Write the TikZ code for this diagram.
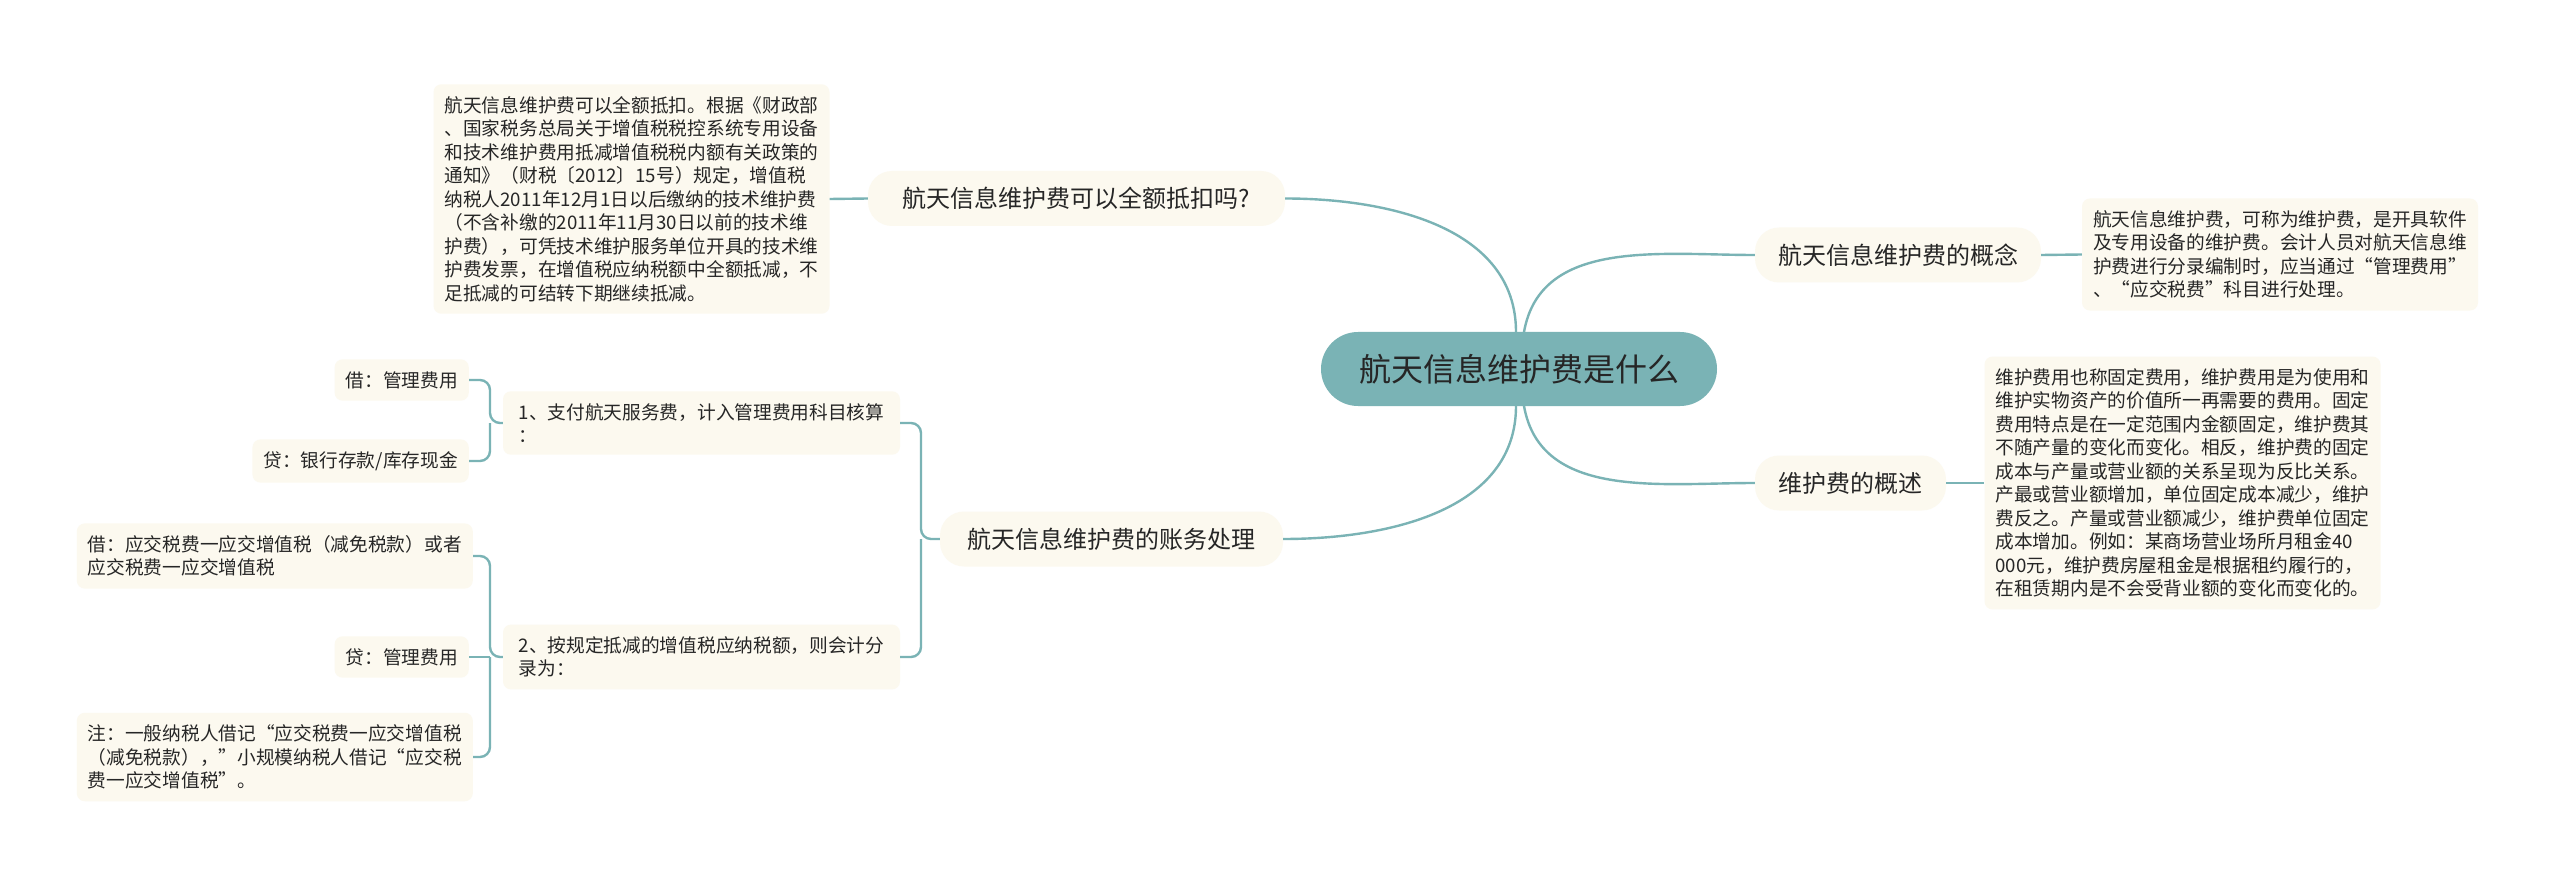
\documentclass[tikz,border=0pt]{standalone}
\usepackage{fontspec}
\setmainfont{Noto Sans CJK SC}
\definecolor{tealA}{HTML}{7AB3B5}
\definecolor{creamA}{HTML}{FCF9EF}
\definecolor{txtA}{HTML}{262626}
\tikzset{
  rootnode/.style={fill=tealA, rounded corners=37pt, minimum width=396pt, minimum height=74pt, inner sep=0pt, font=\fontsize{32}{38}\selectfont, text=txtA},
  branchnode/.style={fill=creamA, rounded corners=24pt, minimum height=55pt, inner xsep=0pt, font=\fontsize{24}{28}\selectfont, text=txtA},
  leafnode/.style={fill=creamA, rounded corners=8pt, inner xsep=11pt, inner ysep=12pt, align=left, font=\fontsize{18.7}{23.5}\selectfont, text=txtA},
  link/.style={draw=tealA, line width=2.4pt},
  bracket/.style={draw=tealA, line width=2.4pt, rounded corners=10pt},
}
\begin{document}
\begin{tikzpicture}[x=1pt,y=-1pt]
\fill[white] (0,0) rectangle (2560,885);
\useasboundingbox (0,0) rectangle (2560,885);

% root
\node[rootnode] (C) at (1519,369) {航天信息维护费是什么};

% branches
\node[branchnode, minimum width=417pt] (B1) at (1076.5,198.5) {航天信息维护费可以全额抵扣吗?};
\node[branchnode, minimum width=286pt] (B2) at (1898,255) {航天信息维护费的概念};
\node[branchnode, minimum width=191pt] (B3) at (1850.5,483) {维护费的概述};
\node[branchnode, minimum width=343pt] (B4) at (1111.5,539) {航天信息维护费的账务处理};

% leaves of B1, B2, B3
\node[leafnode] (T1) at (631.5,199) {航天信息维护费可以全额抵扣。根据《财政部\\、国家税务总局关于增值税税控系统专用设备\\和技术维护费用抵减增值税税内额有关政策的\\通知》（财税〔2012〕15号）规定，增值税\\纳税人2011年12月1日以后缴纳的技术维护费\\（不含补缴的2011年11月30日以前的技术维\\护费），可凭技术维护服务单位开具的技术维\\护费发票，在增值税应纳税额中全额抵减，不\\足抵减的可结转下期继续抵减。};
\node[leafnode] (T2) at (2280,254.5) {航天信息维护费，可称为维护费，是开具软件\\及专用设备的维护费。会计人员对航天信息维\\护费进行分录编制时，应当通过“管理费用”\\、“应交税费”科目进行处理。};
\node[leafnode] (T3) at (2182.5,483) {维护费用也称固定费用，维护费用是为使用和\\维护实物资产的价值所一再需要的费用。固定\\费用特点是在一定范围内金额固定，维护费其\\不随产量的变化而变化。相反，维护费的固定\\成本与产量或营业额的关系呈现为反比关系。\\产最或营业额增加，单位固定成本减少，维护\\费反之。产量或营业额减少，维护费单位固定\\成本增加。例如：某商场营业场所月租金40\\000元，维护费房屋租金是根据租约履行的，\\在租赁期内是不会受背业额的变化而变化的。};

% sub-branches of B4
\node[leafnode, minimum width=397pt] (S1) at (701.5,423) {1、支付航天服务费，计入管理费用科目核算\\：};
\node[leafnode, minimum width=397pt] (S2) at (701.5,657) {2、按规定抵减的增值税应纳税额，则会计分\\录为：};

% leaves of S1
\node[leafnode, anchor=east] (L1) at (469,380) {借：管理费用};
\node[leafnode, anchor=east] (L2) at (469,461) {贷：银行存款/库存现金};

% leaves of S2
\node[leafnode, anchor=east] (L3) at (473,556) {借：应交税费一应交增值税（减免税款）或者\\应交税费一应交增值税};
\node[leafnode, anchor=east] (L4) at (469,657) {贷：管理费用};
\node[leafnode, anchor=east] (L5) at (473,757) {注：一般纳税人借记“应交税费一应交增值税\\（减免税款），”小规模纳税人借记“应交税\\费一应交增值税”。};

% root connectors
\coordinate (CTL) at (1516,332);
\coordinate (CTR) at (1524,332);
\coordinate (CBL) at (1516,406);
\coordinate (CBR) at (1524,406);
\draw[link] (CTL) to[out=90,in=0] (B1.east);
\draw[link] (CTR) to[out=80,in=180] (B2.west);
\draw[link] (CBR) to[out=-80,in=180] (B3.west);
\draw[link] (CBL) to[out=-90,in=0] (B4.east);

% short connectors
\draw[link] (B1.west) -- (T1.east);
\draw[link] (B2.east) -- (T2.west);
\draw[link] (B3.east) -- (T3.west);

% brackets
\coordinate (J4) at (921,539);
\draw[bracket] (B4.west) -- (J4) |- (S1.east);
\draw[bracket] (J4) |- (S2.east);

\coordinate (J1) at (490,423);
\draw[bracket] (S1.west) -- (J1) |- (L1.east);
\draw[bracket] (J1) |- (L2.east);

\coordinate (J2) at (490,657);
\draw[bracket] (S2.west) -- (J2) |- (L3.east);
\draw[bracket] (J2) -- (L4.east);
\draw[bracket] (J2) |- (L5.east);
\end{tikzpicture}
\end{document}
